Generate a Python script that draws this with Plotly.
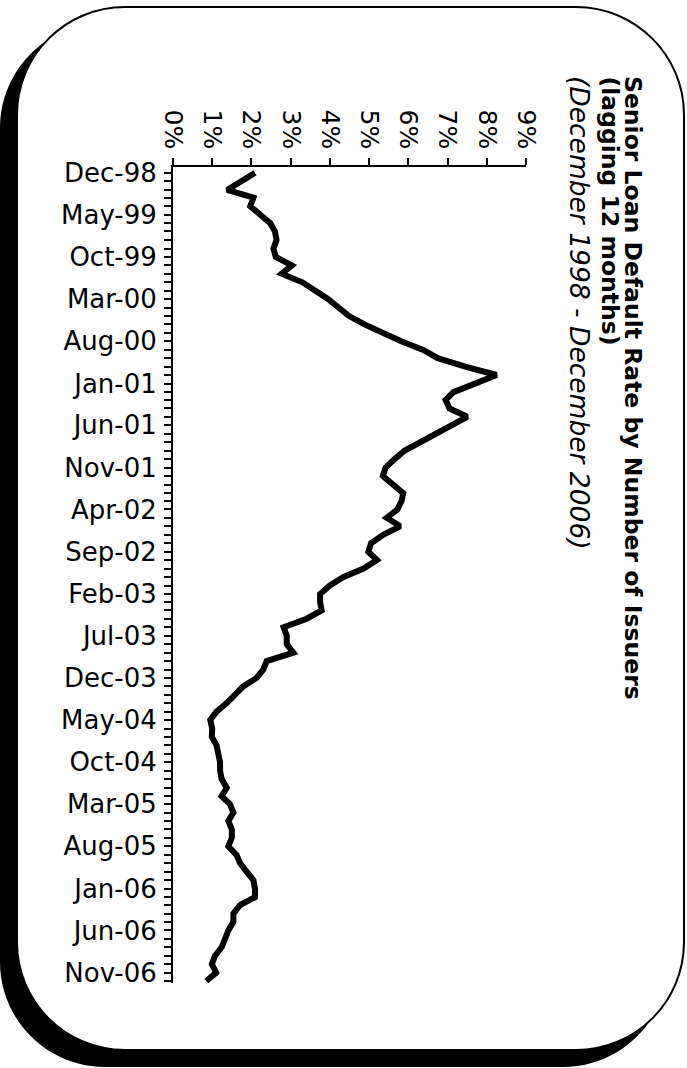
import pandas as pd
import plotly.graph_objects as go

# ---------------- data ----------------
months = pd.date_range("1998-12-01", periods=97, freq="MS")
default_rate = [
    2.09, 1.71, 1.38, 2.05, 1.97, 2.22, 2.48, 2.60, 2.64, 2.56,
    2.62, 3.03, 2.77, 3.30, 3.64, 3.95, 4.22, 4.48, 4.88, 5.33,
    5.82, 6.38, 6.75, 7.45, 8.25, 7.70, 7.15, 6.95, 7.05, 7.50,
    7.10, 6.68, 6.25, 5.90, 5.65, 5.42, 5.35, 5.62, 5.87, 5.83,
    5.72, 5.45, 5.79, 5.37, 5.05, 4.98, 5.20, 4.86, 4.35, 4.00,
    3.75, 3.75, 3.79, 3.41, 2.82, 2.90, 2.90, 3.07, 2.39, 2.30,
    2.13, 1.79, 1.58, 1.37, 1.11, 0.95, 1.00, 0.99, 1.11, 1.16,
    1.20, 1.20, 1.24, 1.37, 1.24, 1.45, 1.54, 1.41, 1.50, 1.50,
    1.41, 1.62, 1.71, 1.88, 2.05, 2.09, 2.09, 1.71, 1.54, 1.54,
    1.41, 1.33, 1.24, 1.07, 0.99, 1.10, 0.85,
]
date_tick_labels = ["Dec-98", "May-99", "Oct-99", "Mar-00", "Aug-00", "Jan-01",
                    "Jun-01", "Nov-01", "Apr-02", "Sep-02", "Feb-03", "Jul-03",
                    "Dec-03", "May-04", "Oct-04", "Mar-05", "Aug-05", "Jan-06",
                    "Jun-06", "Nov-06"]
date_tick_vals = list(months[::5][:len(date_tick_labels)])
pct_tick_vals = list(range(0, 10))
pct_tick_labels = [f"{v}%" for v in pct_tick_vals]
title_lines = ["<b>Senior Loan Default Rate by Number of Issuers</b>",
               "<b>(lagging 12 months)</b>",
               "<i>(December 1998 - December 2006)</i>"]

# ---------------- layout geometry ----------------
W, H = 687, 1068
L, R, T, B = 173, 526, 167, 983


def px(x):
    return (x - L) / (R - L)


def py(y):
    return (B - y) / (B - T)


def rrect(x0, y0, x1, y1, r):
    k = 0.5523 * r
    pts = [("M", [(x0 + r, y0)]),
           ("L", [(x1 - r, y0)]),
           ("C", [(x1 - r + k, y0), (x1, y0 + r - k), (x1, y0 + r)]),
           ("L", [(x1, y1 - r)]),
           ("C", [(x1, y1 - r + k), (x1 - r + k, y1), (x1 - r, y1)]),
           ("L", [(x0 + r, y1)]),
           ("C", [(x0 + r - k, y1), (x0, y1 - r + k), (x0, y1 - r)]),
           ("L", [(x0, y0 + r)]),
           ("C", [(x0, y0 + r - k), (x0 + r - k, y0), (x0 + r, y0)])]
    s = ""
    for cmd, ps in pts:
        s += cmd + " " + " ".join(f"{px(a):.5f},{py(b):.5f}" for a, b in ps) + " "
    return s + "Z"


fig = go.Figure()
fig.add_trace(go.Scatter(
    x=default_rate, y=months, mode="lines",
    line=dict(color="black", width=6),
    hoverinfo="skip", showlegend=False,
))

font_family = "DejaVu Sans"

fig.update_layout(
    width=W, height=H,
    margin=dict(l=L, r=W - R, t=T, b=H - B, autoexpand=False),
    paper_bgcolor="white",
    plot_bgcolor="rgba(0,0,0,0)",
    font=dict(family=font_family, color="black"),
    showlegend=False,
    xaxis=dict(
        side="top", range=[0, 9], tickmode="array",
        tickvals=pct_tick_vals, ticktext=pct_tick_labels, tickangle=90,
        ticks="outside", ticklen=7, tickwidth=1.5, tickcolor="black",
        showline=True, linecolor="black", linewidth=2,
        showgrid=False, zeroline=False,
        tickfont=dict(size=25, family=font_family, color="black"),
        ticklabelstandoff=0,
    ),
    yaxis=dict(
        type="date", range=["2006-12-08", "1998-11-10"],
        tickmode="array", tickvals=date_tick_vals, ticktext=date_tick_labels,
        ticks="outside", ticklen=7, tickwidth=1.5, tickcolor="black",
        minor=dict(ticks="outside", ticklen=7, tickwidth=1.5, tickcolor="black",
                   dtick="M1", tick0="1998-12-01", showgrid=False),
        showline=True, linecolor="black", linewidth=2,
        showgrid=False, zeroline=False,
        tickfont=dict(size=26, family=font_family, color="black"),
        ticklabelstandoff=2,
    ),
    shapes=[
        dict(type="path", xref="paper", yref="paper", layer="below",
             path=rrect(0, 23, 668, 1067, 105),
             fillcolor="black", line=dict(width=0)),
        dict(type="path", xref="paper", yref="paper", layer="below",
             path=rrect(17, 7, 684, 1050, 108),
             fillcolor="white", line=dict(color="black", width=2)),
    ],
)

title_x = [633, 609, 580]
title_sizes = [23.5, 23.5, 26.5]
for txt, xc, fs in zip(title_lines, title_x, title_sizes):
    fig.add_annotation(
        text=txt, xref="paper", yref="paper", x=px(xc), y=py(75),
        xanchor="center", yanchor="top", textangle=90, showarrow=False,
        borderpad=0, font=dict(size=fs, family=font_family, color="black"),
    )

fig.write_html("out.html",
               config={"displayModeBar": False},
               post_script="document.body.style.margin='0';")
